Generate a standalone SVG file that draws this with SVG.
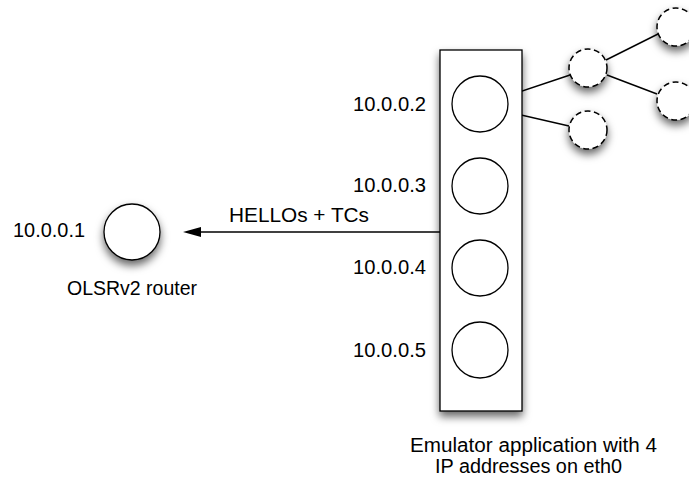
<svg xmlns="http://www.w3.org/2000/svg" width="689" height="481" viewBox="0 0 689 481">
<defs>
<style>
text{font-family:"Liberation Sans",Arial,sans-serif;font-size:19.5px;fill:#000}
.sh{filter:url(#ds)}
.node{fill:#fff;stroke:#000;stroke-width:1.3}
.dash{fill:#fff;stroke:#000;stroke-width:1.5;stroke-dasharray:6 3.5}
.edge{stroke:#000;stroke-width:1.4;fill:none}
</style>
<filter id="ds" x="-40%" y="-40%" width="180%" height="190%">
<feDropShadow dx="0" dy="5" stdDeviation="4" flood-color="#000" flood-opacity="0.6"/>
</filter>
<marker id="ah" viewBox="0 0 18 10" refX="0" refY="5" markerWidth="18" markerHeight="10" markerUnits="userSpaceOnUse" orient="auto-start-reverse">
<path d="M0,0 L18,5 L0,10 Z" fill="#000"/>
</marker>
</defs>
<g id="connectors">
<line class="edge" x1="440" y1="232" x2="201" y2="232" marker-end="url(#ah)"/>
<line class="edge" x1="507" y1="96" x2="570" y2="75"/>
<line class="edge" x1="508" y1="112" x2="569" y2="126"/>
<line class="edge" x1="606" y1="60" x2="658" y2="34"/>
<line class="edge" x1="607" y1="75" x2="657" y2="94"/>
</g>
<g id="router">
<circle class="node sh" cx="132" cy="232" r="28"/>
<text x="13" y="237" textLength="72" lengthAdjust="spacingAndGlyphs">10.0.0.1</text>
<text x="67" y="295" textLength="130" lengthAdjust="spacingAndGlyphs">OLSRv2 router</text>
</g>
<g id="label-edge">
<text x="229" y="222" textLength="140" lengthAdjust="spacingAndGlyphs">HELLOs + TCs</text>
</g>
<g id="emulator">
<rect class="node sh" x="440" y="50" width="82" height="361"/>
<text x="410" y="452" textLength="247" lengthAdjust="spacingAndGlyphs">Emulator application with 4</text>
<text x="435" y="473" textLength="187" lengthAdjust="spacingAndGlyphs">IP addresses on eth0</text>
</g>
<g id="ip2"><circle class="node" cx="480" cy="104" r="28"/><text x="353" y="111" textLength="73" lengthAdjust="spacingAndGlyphs">10.0.0.2</text></g>
<g id="ip3"><circle class="node" cx="480" cy="186" r="28"/><text x="353" y="192" textLength="73" lengthAdjust="spacingAndGlyphs">10.0.0.3</text></g>
<g id="ip4"><circle class="node" cx="480" cy="268" r="28"/><text x="353" y="274" textLength="73" lengthAdjust="spacingAndGlyphs">10.0.0.4</text></g>
<g id="ip5"><circle class="node" cx="480" cy="350" r="28"/><text x="353" y="357" textLength="73" lengthAdjust="spacingAndGlyphs">10.0.0.5</text></g>
<g id="peer1"><circle class="dash sh" cx="588" cy="68" r="19"/></g>
<g id="peer2"><circle class="dash sh" cx="588" cy="130" r="19"/></g>
<g id="peer3"><circle class="dash sh" cx="676" cy="27" r="19"/></g>
<g id="peer4"><circle class="dash sh" cx="676" cy="101" r="19"/></g>
</svg>
